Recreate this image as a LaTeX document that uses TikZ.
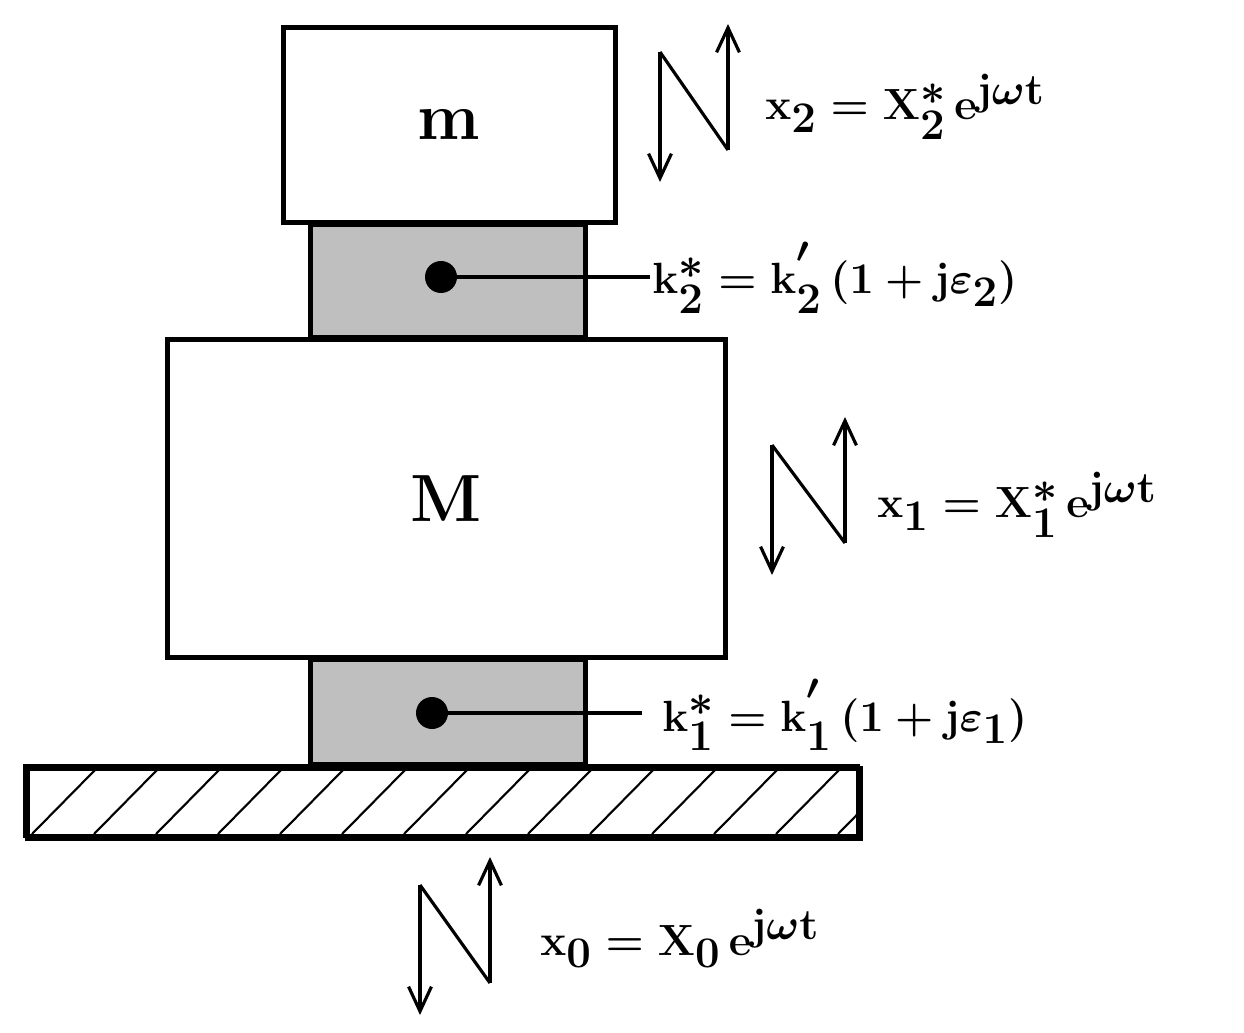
\documentclass[tikz,border=0pt]{standalone}
\usepackage{amsmath,bm}
\usetikzlibrary{arrows.meta}
\begin{document}
\begin{tikzpicture}[x=0.02cm,y=-0.02cm,
  blk/.style={draw,line width=2.6pt,fill=white},
  spr/.style={draw,line width=2.6pt,fill=black!25},
  lab/.style={anchor=base west,inner sep=0pt,font=\fontsize{42}{48}\selectfont\boldmath},
  vib/.style={line width=1.8pt,-{Straight Barb[length=14pt,width=13pt,line width=1.8pt]}}]
\useasboundingbox (0,0) rectangle (1244,1033);
\node[spr,minimum width=275*0.02cm,minimum height=113*0.02cm,anchor=north west,inner sep=0] (s2) at (308,222) {};
\node[spr,minimum width=275*0.02cm,minimum height=105*0.02cm,anchor=north west,inner sep=0] (s1) at (308,657) {};
\node[blk,minimum width=332*0.02cm,minimum height=195*0.02cm,anchor=north west,inner sep=0,font=\fontsize{38}{44}\selectfont\bfseries] (m) at (281,25) {m};
\node[blk,minimum width=558*0.02cm,minimum height=318*0.02cm,anchor=north west,inner sep=0,font=\fontsize{38}{44}\selectfont\bfseries] (M) at (165,337) {M};
\node[blk,minimum width=833*0.02cm,minimum height=70*0.02cm,anchor=north west,inner sep=0] (b) at (25,766) {};
\begin{scope}
\clip (27,768) rectangle (856,834);
\foreach \i in {0,...,14} \draw[line width=1.2pt] (32+62*\i,834) -- (97+62*\i,768);
\end{scope}
\draw[blk,fill=none] (25,766) rectangle (858,836);
% dots and leaders
\fill (441,277) circle (16);
\coordinate (k2e) at (650,277);
\draw[line width=2.6pt] (441,277) -- (k2e);
\fill (432,713) circle (16);
\coordinate (k1e) at (642,713);
\draw[line width=2.6pt] (432,713) -- (k1e);
% labels
\node[lab] (lx2) at (765,120) {$\mathbf{x_2 = X_2^{*}\,e^{j\omega t}}$};
\node[lab] (lk2) at (652,294) {$\mathbf{k_2^{*} = k_2^{'}\,(1 + j\bm{\varepsilon}_2)}$};
\node[lab] (lx1) at (877,518) {$\mathbf{x_1 = X_1^{*}\,e^{j\omega t}}$};
\node[lab] (lk1) at (662,731) {$\mathbf{k_1^{*} = k_1^{'}\,(1 + j\bm{\varepsilon}_1)}$};
\node[lab] (lx0) at (540,955) {$\mathbf{x_0 = X_0\,e^{j\omega t}}$};
% vibration symbols
\foreach \x/\y/\w in {660/52/68, 772/445/73, 420/885/70}{
  \draw[vib] (\x,\y) -- (\x,\y+130);
  \draw[line width=1.8pt] (\x,\y) -- (\x+\w,\y+98);
  \draw[vib] (\x+\w,\y+98) -- (\x+\w,\y-28);
}
\end{tikzpicture}
\end{document}
